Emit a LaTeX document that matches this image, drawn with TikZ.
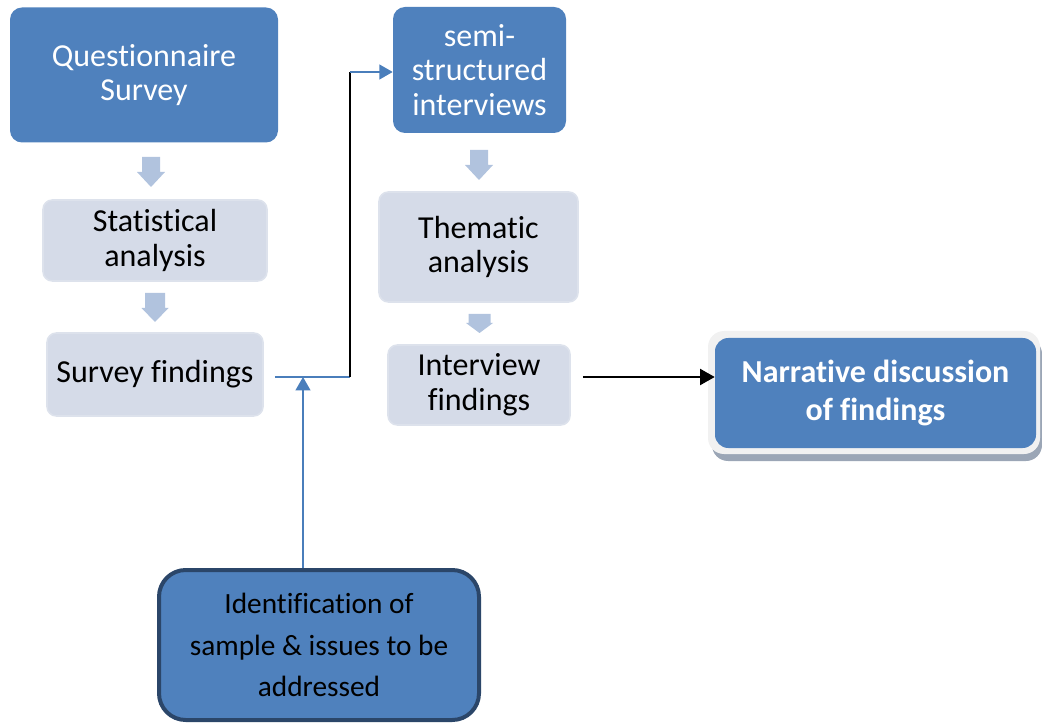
\documentclass[tikz,border=0pt]{standalone}
\usepackage{fontspec}
\setmainfont{Carlito}[Ligatures={NoCommon,NoRare,NoContextual}, Contextuals=NoAlternate]
\usetikzlibrary{arrows.meta,calc}

\definecolor{boxblue}{HTML}{4F81BD}
\definecolor{lightfill}{HTML}{D5DBE8}
\definecolor{lightedge}{HTML}{DDE2EC}
\definecolor{blockfill}{HTML}{B1C3DE}
\definecolor{identedge}{HTML}{2B4669}
\definecolor{paleband}{HTML}{F1F1F1}
\definecolor{shadowgray}{HTML}{9BA6B6}
\definecolor{linkblue}{HTML}{4A7EBB}

% block arrow pointing down: centre x, top, neck, tip, shaft half-width, head half-width
\newcommand\downblock[6]{%
  \fill[blockfill] (#1-#5,#2) -- (#1+#5,#2) -- (#1+#5,#3) -- (#1+#6,#3)
    -- (#1,#4) -- (#1-#6,#3) -- (#1-#5,#3) -- cycle;}

\begin{document}
\begin{tikzpicture}[x=0.75pt,y=-0.75pt,
  darkbox/.style={fill=boxblue, rounded corners=9pt, text=white, align=center,
    inner sep=0pt, font=\fontsize{24}{26}\selectfont},
  lightbox/.style={fill=lightfill, draw=lightedge, line width=1.2pt,
    rounded corners=7pt, text=black, align=center, inner sep=0pt,
    font=\fontsize{24}{26}\selectfont},
  identbox/.style={fill=boxblue, draw=identedge, line width=3pt,
    rounded corners=20pt, text=black, align=center, inner sep=0pt,
    font=\fontsize{22}{31}\selectfont},
  narrbox/.style={fill=boxblue, rounded corners=10pt, text=white, align=center,
    inner sep=0pt, font=\fontsize{24}{28}\selectfont\bfseries},
  bluelink/.style={draw=linkblue, line width=1.5pt},
  blacklink/.style={draw=black, line width=1.2pt},
  bluetip/.style={-{Triangle[length=10pt,width=11pt]}},
  blacktip/.style={-{Triangle[length=11pt,width=12pt]}}
]
\useasboundingbox (0,0) rectangle (1042,723);

% left column
\node[darkbox, minimum width=201pt, minimum height=101.25pt] (quest) at (144,75)
  {Questionnaire\\Survey};
\node[lightbox, minimum width=168pt, minimum height=60.75pt] (stat) at (155,240.5)
  {Statistical\\analysis};
\node[lightbox, minimum width=162pt, minimum height=62.25pt] (survf) at (155,374.5)
  {Survey findings};

% middle column
\node[darkbox, minimum width=129.75pt, minimum height=94.5pt] (semi) at (479.5,70)
  {semi-\\structured\\interviews};
\node[lightbox, minimum width=149.25pt, minimum height=82.5pt] (them) at (478.5,247)
  {Thematic\\analysis};
\node[lightbox, minimum width=136.5pt, minimum height=60pt] (intf) at (479,385)
  {Interview\\findings};

% outcome box with its pale rim and shadow
\fill[shadowgray, rounded corners=12pt] (712,338) rectangle (1042,461);
\fill[paleband, rounded corners=12pt] (708,331) rectangle (1040,454);
\node[narrbox, minimum width=240.75pt, minimum height=82.5pt] (narr) at (875.5,393)
  {Narrative discussion\\of findings};

% sampling box
\node[identbox, minimum width=240pt, minimum height=112.5pt] (ident) at (319,645)
  {Identification of\\sample \& issues to be\\addressed};

% block arrows between stages
\downblock{151}{157}{172}{187}{9}{14}
\downblock{155}{293}{308}{322}{10}{13.5}
\downblock{479}{150}{165}{180}{9}{14}
\downblock{479.5}{314}{323}{333}{11}{13.5}

% link from survey findings to the interviews
\coordinate (start) at ($(survf.east)+(11,2.5)$);
\coordinate (bend1) at (350,377);
\coordinate (bend2) at (350,72);
\draw[bluelink] (start) -- (bend1);
\draw[blacklink] (bend1) -- (bend2);
\draw[bluelink, bluetip] (bend2) -- (semi.west |- bend2);

% sampling feeds the link
\draw[bluelink, bluetip] ([xshift=-12]ident.north) -- ([xshift=-12]ident.north |- bend1);

% interview findings lead to the discussion
\coordinate (out) at ($(intf.east)+(12,-8)$);
\draw[black, line width=1.6pt, blacktip] (out) -- (narr.west |- out);
\end{tikzpicture}
\end{document}
